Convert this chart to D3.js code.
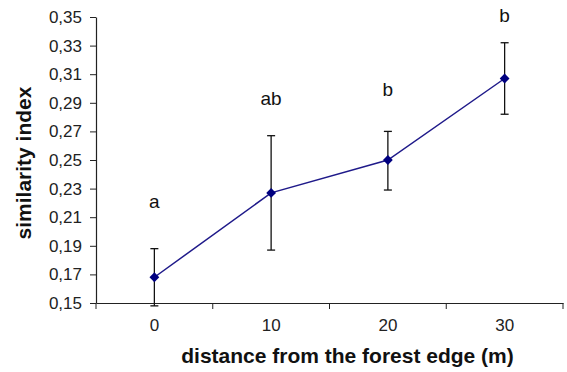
<!DOCTYPE html>
<html>
<head>
<meta charset="utf-8">
<script src="https://cdn.jsdelivr.net/npm/d3@7"></script>
<style>
  body { margin: 0; background: white; }
  text { font-family: "Liberation Sans", Arial, sans-serif; }
</style>
</head>
<body>
<script>
// distance from the forest edge (m)
const distances = ['0', '10', '20', '30'];
const means = [0.168, 0.227, 0.250, 0.307];
const upper = [0.188, 0.267, 0.270, 0.332];
const lower = [0.148, 0.187, 0.229, 0.282];
// significance letters and the level they sit at
const letters = ['a', 'ab', 'b', 'b'];
const letterLevel = [0.220, 0.292, 0.298, 0.350];
const yTicks = [0.15, 0.17, 0.19, 0.21, 0.23, 0.25, 0.27, 0.29, 0.31, 0.33, 0.35];

const width = 567;
const height = 372;
const margin = { top: 17, right: 4, bottom: 69, left: 96 };

const svg = d3.select('body')
  .append('svg')
  .attr('width', width)
  .attr('height', height);

svg.append('rect')
  .attr('width', width)
  .attr('height', height)
  .attr('fill', 'white');

const x = d3.scaleBand()
  .domain(distances)
  .range([margin.left, width - margin.right]);

const y = d3.scaleLinear()
  .domain([0.15, 0.35])
  .range([height - margin.bottom, margin.top]);

const fmt = (d) => d3.format('.2f')(d).replace('.', ',');

// Y axis
const yAxis = svg.append('g')
  .attr('transform', `translate(${margin.left},0)`)
  .call(d3.axisLeft(y).tickValues(yTicks).tickFormat(fmt).tickSize(6).tickSizeOuter(0).tickPadding(8));

// X axis
const xAxis = svg.append('g')
  .attr('transform', `translate(0,${height - margin.bottom})`)
  .call(d3.axisBottom(x).tickSize(0).tickPadding(16));

// band boundary ticks below the x axis
xAxis.selectAll('line.sep')
  .data(distances.concat(['end']))
  .enter()
  .append('line')
  .attr('class', 'sep')
  .attr('x1', (d, i) => margin.left + i * x.step())
  .attr('x2', (d, i) => margin.left + i * x.step())
  .attr('y1', 0)
  .attr('y2', 6)
  .attr('stroke', '#222');

[yAxis, xAxis].forEach((g) => {
  g.select('.domain').attr('stroke', '#222').attr('stroke-width', 1.2);
  g.selectAll('.tick line').attr('stroke', '#222');
  g.selectAll('.tick text')
    .attr('font-size', 17)
    .attr('font-family', '"Liberation Sans", Arial, sans-serif')
    .attr('fill', '#222');
});

const cx = (i) => x(distances[i]) + x.bandwidth() / 2;

// Error bars
const err = svg.append('g').attr('stroke', '#111').attr('stroke-width', 1.3);
distances.forEach((d, i) => {
  err.append('line')
    .attr('x1', cx(i)).attr('x2', cx(i))
    .attr('y1', y(upper[i])).attr('y2', y(lower[i]));
  [upper[i], lower[i]].forEach((v) => {
    err.append('line')
      .attr('x1', cx(i) - 4).attr('x2', cx(i) + 4)
      .attr('y1', y(v)).attr('y2', y(v));
  });
});

// Mean line
const line = d3.line()
  .x((d, i) => cx(i))
  .y((d) => y(d));

svg.append('path')
  .datum(means)
  .attr('fill', 'none')
  .attr('stroke', '#1f1a8a')
  .attr('stroke-width', 1.5)
  .attr('d', line);

// Diamond markers
svg.selectAll('path.marker')
  .data(means)
  .enter()
  .append('path')
  .attr('class', 'marker')
  .attr('transform', (d, i) => `translate(${cx(i)},${y(d)}) rotate(45)`)
  .attr('d', d3.symbol().type(d3.symbolSquare).size(48))
  .attr('fill', '#000080');

// Letters
svg.selectAll('text.letter')
  .data(letters)
  .enter()
  .append('text')
  .attr('class', 'letter')
  .attr('x', (d, i) => cx(i))
  .attr('y', (d, i) => y(letterLevel[i]))
  .attr('text-anchor', 'middle')
  .attr('dominant-baseline', 'middle')
  .attr('font-size', 19)
  .attr('fill', '#111')
  .text((d) => d);

// Axis titles
svg.append('text')
  .attr('x', (margin.left + width - margin.right) / 2 + 18)
  .attr('y', 363)
  .attr('text-anchor', 'middle')
  .attr('font-size', 21)
  .attr('font-weight', 'bold')
  .attr('fill', '#111')
  .text('distance from the forest edge (m)');

svg.append('text')
  .attr('transform', 'translate(31,163) rotate(-90)')
  .attr('text-anchor', 'middle')
  .attr('font-size', 21)
  .attr('font-weight', 'bold')
  .attr('fill', '#111')
  .text('similarity index');
</script>
</body>
</html>
